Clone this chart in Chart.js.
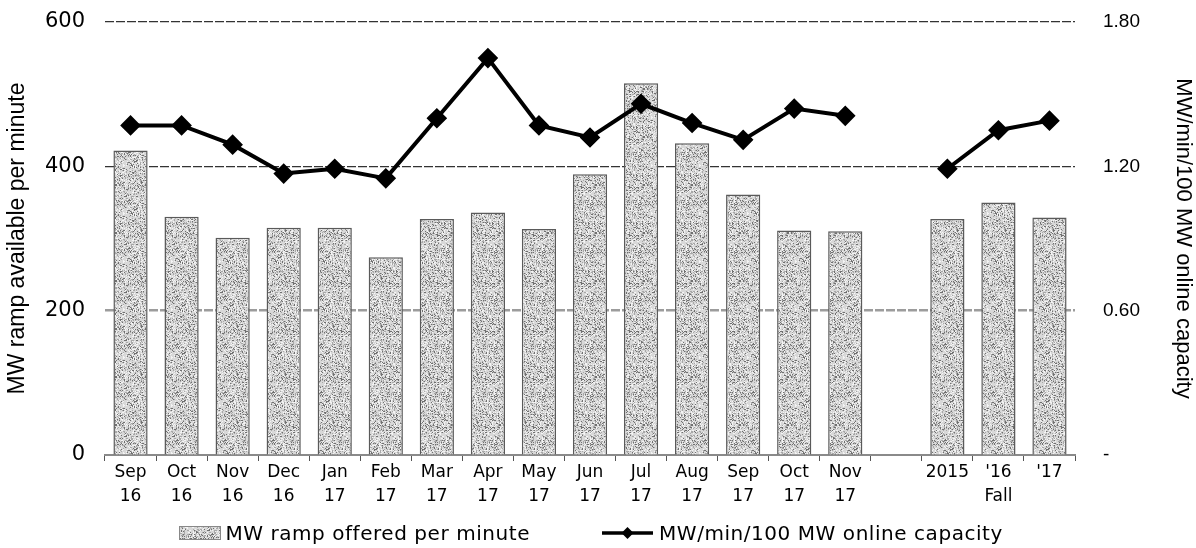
<!DOCTYPE html>
<html>
<head>
<meta charset="utf-8">
<script src="https://cdn.jsdelivr.net/npm/chart.js@4.4.1/dist/chart.umd.min.js"></script>
<style>
  html,body{margin:0;padding:0;background:#fff;}
  #wrap{position:relative;width:1196px;height:548px;overflow:hidden;}
  .lg{position:absolute;top:520px;height:26px;display:flex;align-items:center;
      font-family:'DejaVu Sans',sans-serif;font-size:20px;letter-spacing:0.55px;color:#000;white-space:nowrap;}
  .lg canvas,.lg svg{display:block;}
</style>
</head>
<body>
<div id="wrap">
  <canvas id="c" width="1196" height="548"></canvas>
  <div class="lg" id="lgBar" style="right:666px;"><canvas id="swBar" width="42" height="14" style="margin-right:4px"></canvas><span id="txBar"></span></div>
  <div class="lg" id="lgLine" style="left:602px;"><svg width="51" height="14" style="margin-right:6px"><line x1="0" y1="7" x2="51" y2="7" stroke="#000" stroke-width="3.5"/><polygon points="25.5,1 31.5,7 25.5,13 19.5,7" fill="#000"/></svg><span id="txLine"></span></div>
</div>
<script>
// ---- data ----
const categories = [["Sep","16"],["Oct","16"],["Nov","16"],["Dec","16"],["Jan","17"],["Feb","17"],["Mar","17"],["Apr","17"],["May","17"],["Jun","17"],["Jul","17"],["Aug","17"],["Sep","17"],["Oct","17"],["Nov","17"],"",["2015"],["'16","Fall"],["'17"]];
const rampOffered = [422,330,301,315,315,274,327,336,313,389,515,432,361,311,310,null,327,350,329];
const rampPer100 = [1.37,1.37,1.29,1.17,1.19,1.15,1.40,1.65,1.37,1.32,1.46,1.38,1.31,1.44,1.41,null,1.19,1.35,1.39];
const leftTicks = [0,200,400,600];
const rightTicks = [0,0.6,1.2,1.8];
const barLabel = "MW ramp offered per minute";
const lineLabel = "MW/min/100 MW online capacity";
const leftTitle = "MW ramp available per minute";
const rightTitle = "MW/min/100 MW online capacity";

// ---- stipple texture (deterministic hash, purely decorative) ----
function makePattern(){
  const c = document.createElement('canvas');
  c.width = 48; c.height = 48;
  const g = c.getContext('2d');
  g.fillStyle = '#d8d8d8';
  g.fillRect(0,0,48,48);
  for(let y=0;y<48;y++){
    for(let x=0;x<48;x++){
      let h = (x*374761393 + y*668265263) >>> 0;
      h = ((h ^ (h >>> 13)) * 1274126177) >>> 0;
      const v = (h >>> 8) % 100;
      if(v < 12){ g.fillStyle = '#707070'; g.fillRect(x,y,1,1); }
      else if(v < 30){ g.fillStyle = '#a8a8a8'; g.fillRect(x,y,1,1); }
      else if(v < 46){ g.fillStyle = '#f4f4f4'; g.fillRect(x,y,1,1); }
    }
  }
  return c;
}
const patCanvas = makePattern();
const ctx = document.getElementById('c').getContext('2d');
const pattern = ctx.createPattern(patCanvas,'repeat');

// legend (HTML, built from the dataset labels)
(function(){
  const sw = document.getElementById('swBar').getContext('2d');
  sw.fillStyle = sw.createPattern(patCanvas,'repeat');
  sw.fillRect(0,0,42,14);
  sw.strokeStyle = '#888'; sw.lineWidth = 1; sw.strokeRect(0.5,0.5,41,13);
  document.getElementById('txBar').textContent = barLabel;
  document.getElementById('txLine').textContent = lineLabel;
})();

const TICKFONT = "'DejaVu Sans',sans-serif";
const ARIAL = "'Liberation Sans',Arial,sans-serif";

new Chart(ctx, {
  data: {
    labels: categories,
    datasets: [
      {
        type: 'line',
        label: lineLabel,
        data: rampPer100,
        yAxisID: 'y2',
        borderColor: '#000',
        backgroundColor: '#000',
        borderWidth: 4,
        pointStyle: 'rectRot',
        pointRadius: 7.5,
        pointBackgroundColor: '#000',
        pointBorderColor: '#000',
        spanGaps: false,
        tension: 0,
        order: 0
      },
      {
        type: 'bar',
        label: barLabel,
        data: rampOffered,
        yAxisID: 'y',
        backgroundColor: pattern,
        borderColor: '#5a5a5a',
        borderWidth: {left:1.5,right:1.5,top:1.5,bottom:0},
        barPercentage: 0.67,
        categoryPercentage: 1.0,
        order: 1
      }
    ]
  },
  options: {
    responsive: false,
    animation: false,
    layout: { padding: { top: 22, left: 0, right: 0, bottom: 41 } },
    plugins: {
      tooltip: { enabled: false },
      legend: { display: false }
    },
    scales: {
      x: {
        offset: true,
        grid: {
          display: true,
          drawOnChartArea: false,
          drawTicks: true,
          tickLength: 6,
          offset: true,
          color: '#555',
          lineWidth: 1
        },
        border: { display: true, color: '#8a8a8a', width: 2 },
        ticks: {
          color: '#000',
          font: { family: TICKFONT, size: 17, lineHeight: 1.41 },
          maxRotation: 0,
          autoSkip: false,
          padding: 0
        },
        afterFit: function(s){ s.height = 52; }
      },
      y: {
        position: 'left',
        min: 0, max: 600,
        afterBuildTicks: function(s){ s.ticks = leftTicks.map(v=>({value:v})); },
        grid: {
          drawTicks: false,
          color: function(c){ const v=c.tick.value; if(v===200) return '#9c9c9c'; if(v===0) return 'rgba(0,0,0,0)'; return '#333'; },
          lineWidth: function(c){ return c.tick.value===200 ? 2.5 : 1.2; }
        },
        border: { display: false, dash: [9,2] },
        ticks: {
          color: '#000',
          font: { family: TICKFONT, size: 21 },
          padding: 20
        },
        title: {
          display: true,
          text: leftTitle,
          color: '#000',
          font: { family: ARIAL, size: 23 },
          padding: { top: 4, bottom: 0 }
        },
        afterFit: function(s){ s.width = 105; s.paddingTop = 0; s.paddingBottom = 0; }
      },
      y2: {
        position: 'right',
        min: 0, max: 1.8,
        afterBuildTicks: function(s){ s.ticks = rightTicks.map(v=>({value:v})); },
        grid: { drawOnChartArea: false, drawTicks: false },
        border: { display: false },
        ticks: {
          color: '#000',
          font: { family: ARIAL, size: 19 },
          padding: 28,
          callback: function(v){ return v===0 ? '-' : Number(v).toFixed(2); }
        },
        title: {
          display: true,
          text: rightTitle,
          color: '#000',
          font: { family: ARIAL, size: 22 },
          padding: { top: 0, bottom: 22 }
        },
        afterFit: function(s){ s.width = 121; s.paddingTop = 0; s.paddingBottom = 0; }
      }
    }
  }
});
</script>
</body>
</html>
